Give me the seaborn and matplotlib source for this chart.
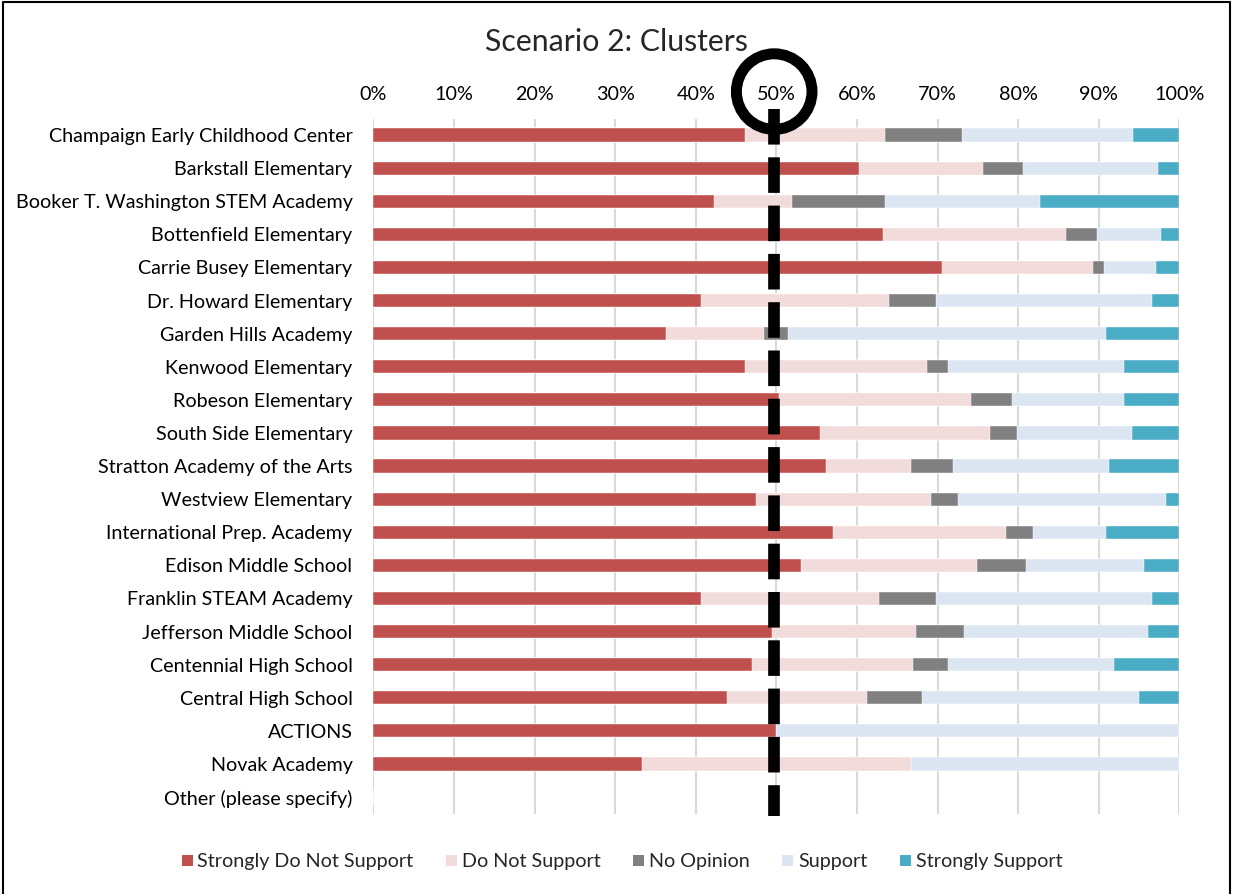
import numpy as np
import pandas as pd
import matplotlib
matplotlib.use("Agg")
import matplotlib.pyplot as plt
from matplotlib.patches import Patch, Circle
from matplotlib.lines import Line2D
from matplotlib.ticker import PercentFormatter
import seaborn as sns

## dados (percentuais)

escolas = [
    "Champaign Early Childhood Center", "Barkstall Elementary",
    "Booker T. Washington STEM Academy", "Bottenfield Elementary",
    "Carrie Busey Elementary", "Dr. Howard Elementary", "Garden Hills Academy",
    "Kenwood Elementary", "Robeson Elementary", "South Side Elementary",
    "Stratton Academy of the Arts", "Westview Elementary",
    "International Prep. Academy", "Edison Middle School",
    "Franklin STEAM Academy", "Jefferson Middle School",
    "Centennial High School", "Central High School", "ACTIONS",
    "Novak Academy", "Other (please specify)",
]

strongly_not = [46.1, 60.2, 42.3, 63.3, 70.6, 40.7, 36.3, 46.1, 50.3, 55.4, 56.2,
                47.5, 57.0, 53.1, 40.7, 49.5, 47.0, 43.9, 50.0, 33.3, 0]
not_support = [17.4, 15.4, 9.6, 22.6, 18.7, 23.3, 12.2, 22.6, 23.8, 21.1, 10.5,
               21.7, 21.5, 21.8, 22.1, 17.8, 20.0, 17.3, 0, 33.4, 0]
no_opinion = [9.6, 5.0, 11.6, 3.9, 1.4, 5.8, 3.0, 2.6, 5.2, 3.4, 5.2,
              3.3, 3.3, 6.1, 7.0, 6.0, 4.3, 6.9, 0, 0, 0]
support = [21.2, 16.8, 19.2, 7.9, 6.4, 26.8, 39.4, 21.8, 13.9, 14.2, 19.4,
           25.9, 9.1, 14.6, 26.8, 22.8, 20.6, 26.9, 50.0, 33.3, 0]
strongly_support = [5.7, 2.6, 17.3, 2.3, 2.9, 3.4, 9.1, 6.9, 6.8, 5.9, 8.7,
                    1.6, 9.1, 4.4, 3.4, 3.9, 8.1, 5.0, 0, 0, 0]

categorias = ["Strongly Do Not Support", "Do Not Support", "No Opinion",
              "Support", "Strongly Support"]
cores = ["#C0504D", "#F2DCDB", "#808080", "#DCE6F2", "#4BACC6"]

df = pd.DataFrame({
    "escola": escolas,
    categorias[0]: strongly_not,
    categorias[1]: not_support,
    categorias[2]: no_opinion,
    categorias[3]: support,
    categorias[4]: strongly_support,
})

# soma acumulada para empilhar as barras
acum = df[categorias].cumsum(axis=1)
acum.insert(0, "escola", escolas)

sns.set_style("white")
plt.rcParams['font.family'] = ['Lato', 'DejaVu Sans']

fig = plt.figure(figsize=(12.34, 8.94), dpi=100)
ax = fig.add_axes([373.3 / 1234, 1 - 813.6 / 894, 806 / 1234, (813.6 - 118.5) / 894])

# desenha do total para o primeiro (sobrepondo)
for cat, cor in reversed(list(zip(categorias, cores))):
    sns.barplot(data=acum, x=cat, y="escola", order=escolas, color=cor,
                orient="h", width=0.4, ax=ax, saturation=1,
                edgecolor="white", linewidth=0.3)

ax.set_xlim(0, 100)
ax.set_xticks(np.arange(0, 101, 10))
ax.xaxis.set_major_formatter(PercentFormatter(decimals=0))
ax.xaxis.tick_top()
ax.set_xlabel("")
ax.set_ylabel("")
ax.grid(axis="x", color="#D9D9D9", linewidth=1.5)
ax.set_axisbelow(True)
for s in ax.spines.values():
    s.set_visible(False)
ax.tick_params(axis="both", length=0, labelsize=14.2, colors="black")
ax.tick_params(axis="y", pad=15)
ax.tick_params(axis="x", pad=11.5)

fig.text(616 / 1234, 1 - 42 / 894, "Scenario 2: Clusters", ha="center",
         va="center", fontsize=21.8)

# linha tracejada dos 50% e circulo
x50 = 774.2 / 1234
linha = Line2D([x50, x50], [1 - 108.7 / 894, 1 - 816 / 894],
               color="black", linewidth=8.4, dash_capstyle="butt")
linha.set_dashes([3.05, 1.09])
fig.add_artist(linha)
fig.add_artist(Circle((774.2, 894 - 91.6), 37.8, transform=None, fill=False,
                      edgecolor="black", linewidth=7.9))

# moldura
fig.add_artist(Line2D([3 / 1234, 3 / 1234, 1230 / 1234, 1230 / 1234],
                      [0, 1 - 1.5 / 894, 1 - 1.5 / 894, 0],
                      color="black", linewidth=1.5))

handles = [Patch(facecolor=c, edgecolor="none") for c in cores]
fig.legend(handles, categorias, loc="center", bbox_to_anchor=(622 / 1234, 1 - 862 / 894),
           ncol=5, frameon=False, fontsize=14.2, handlelength=0.55, handleheight=0.55,
           handletextpad=0.25, columnspacing=1.65)

fig.savefig("out.png", dpi=100)
